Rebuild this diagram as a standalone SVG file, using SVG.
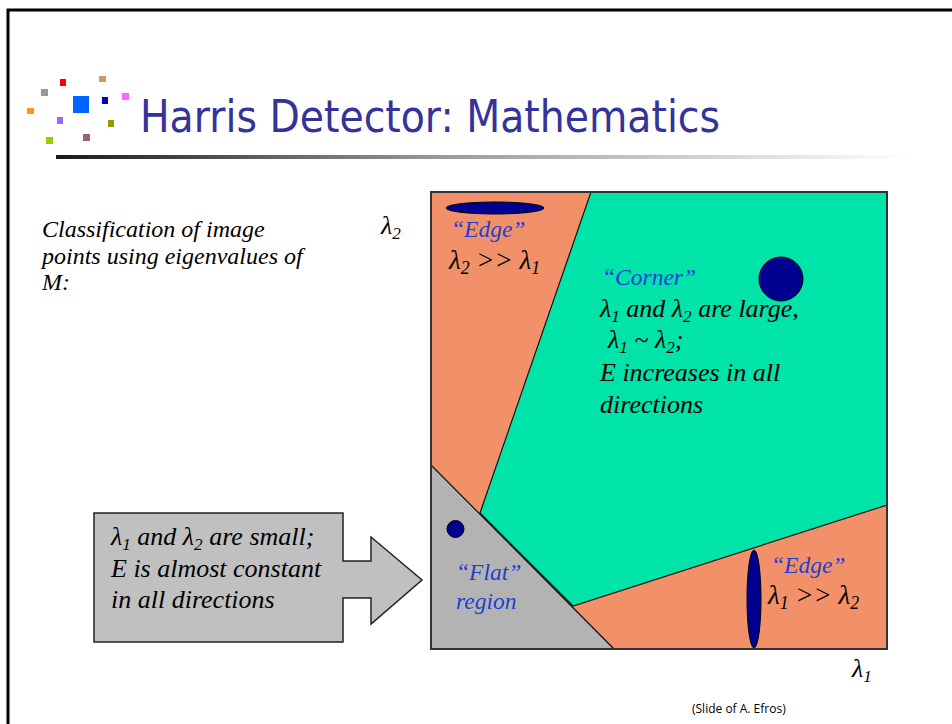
<svg xmlns="http://www.w3.org/2000/svg" width="952" height="724" viewBox="0 0 952 724">
<defs>
<linearGradient id="bar" x1="0" x2="1" y1="0" y2="0">
<stop offset="0" stop-color="#1a1a1a"/>
<stop offset="0.45" stop-color="#9a9a9a"/>
<stop offset="1" stop-color="#ffffff"/>
</linearGradient>
<style>
.t{font-style:italic;fill:#000}
.b{fill:#1f3fd0}
.s{font-size:66%}
.dot{fill:#000090;stroke:#000;stroke-width:1}
.edge{stroke:#111;stroke-width:1.2}
</style>
</defs>
<rect width="952" height="724" fill="#fff"/>
<path d="M8,724 V10 H952" fill="none" stroke="#000" stroke-width="3"/>
<g id="logo">
<rect x="27" y="108" width="7" height="6" fill="#ff9a00"/>
<rect x="41" y="89" width="7" height="7" fill="#999"/>
<rect x="60" y="79" width="6" height="7" fill="#f00"/>
<rect x="99" y="76" width="7" height="6" fill="#cc9966"/>
<rect x="73" y="96" width="16" height="17" fill="#0066ff"/>
<rect x="102" y="97" width="6" height="7" fill="#0000cc"/>
<rect x="122" y="93" width="7" height="7" fill="#ff66ff"/>
<rect x="57" y="117" width="6" height="7" fill="#9966ff"/>
<rect x="108" y="120" width="6" height="7" fill="#999900"/>
<rect x="46" y="137" width="7" height="7" fill="#99cc00"/>
<rect x="83" y="134" width="7" height="7" fill="#996666"/>
</g>
<text id="title" x="140" y="132" font-family="DejaVu Sans" font-size="44" fill="#333399" textLength="580" lengthAdjust="spacingAndGlyphs">Harris Detector: Mathematics</text>
<rect x="56" y="155" width="856" height="4" fill="url(#bar)"/>
<g id="intro">
<text class="t" font-family="Liberation Serif" font-size="24" x="42" y="237">Classification of image</text>
<text class="t" font-family="Liberation Serif" font-size="24" x="42" y="264">points using eigenvalues of</text>
<text class="t" font-family="Liberation Serif" font-size="24" x="42" y="290">M:</text>
</g>
<g id="plot">
<rect x="431" y="192" width="456" height="457" fill="#f19069"/>
<polygon points="591,192 887,192 887,505 573,606 480,513" fill="#00e3a9" class="edge"/>
<polygon points="431,465 431,649 614,649" fill="#b3b3b3" class="edge"/>
<path d="M431,192 H887 V649 H431 Z" fill="none" stroke="#333" stroke-width="2"/>
</g>
<g id="edge-top">
<ellipse cx="495" cy="208" rx="49" ry="6" class="dot"/>
<text class="t b" font-family="Liberation Serif" x="451" y="237" font-size="23.5">“Edge”</text>
<text class="t" font-family="Liberation Serif" x="449" y="269" font-size="27">λ<tspan class="s" dy="5">2</tspan><tspan dy="-5"> &gt;&gt; λ</tspan><tspan class="s" dy="5">1</tspan></text>
</g>
<g id="corner">
<circle cx="781" cy="279" r="22" class="dot"/>
<text class="t b" font-family="Liberation Serif" x="602" y="285" font-size="23.5">“Corner”</text>
<text class="t" font-family="Liberation Serif" x="600" y="317" font-size="26">λ<tspan class="s" dy="5">1</tspan><tspan dy="-5"> and λ</tspan><tspan class="s" dy="5">2</tspan><tspan dy="-5"> are large,</tspan></text>
<text class="t" font-family="Liberation Serif" x="608" y="348" font-size="26">λ<tspan class="s" dy="5">1</tspan><tspan dy="-5"> ~ λ</tspan><tspan class="s" dy="5">2</tspan><tspan dy="-5">;</tspan></text>
<text class="t" font-family="Liberation Serif" x="600" y="381" font-size="26">E increases in all</text>
<text class="t" font-family="Liberation Serif" x="600" y="413" font-size="26">directions</text>
</g>
<g id="flat">
<circle cx="455.5" cy="529" r="8.5" class="dot"/>
<text class="t b" font-family="Liberation Serif" x="456" y="580" font-size="23.5">“Flat”</text>
<text class="t b" font-family="Liberation Serif" x="456" y="609" font-size="23.5">region</text>
</g>
<g id="edge-right">
<ellipse cx="754" cy="599" rx="7" ry="49" class="dot"/>
<text class="t b" font-family="Liberation Serif" x="771" y="573" font-size="23.5">“Edge”</text>
<text class="t" font-family="Liberation Serif" x="768" y="604" font-size="27">λ<tspan class="s" dy="5">1</tspan><tspan dy="-5"> &gt;&gt; λ</tspan><tspan class="s" dy="5">2</tspan></text>
</g>
<g id="axes">
<text class="t" font-family="Liberation Serif" font-size="26" x="381" y="234">λ<tspan class="s" dy="5">2</tspan></text>
<text class="t" font-family="Liberation Serif" font-size="26" x="852" y="677">λ<tspan class="s" dy="5">1</tspan></text>
</g>
<g id="callout">
<polygon points="94,513 343,513 343,561 371,561 371,537 422,580 371,624 371,598 343,598 343,642 94,642" fill="#c0c0c0" stroke="#222" stroke-width="1.5"/>
<text class="t" font-family="Liberation Serif" x="111" y="545" font-size="26">λ<tspan class="s" dy="5">1</tspan><tspan dy="-5"> and λ</tspan><tspan class="s" dy="5">2</tspan><tspan dy="-5"> are small;</tspan></text>
<text class="t" font-family="Liberation Serif" x="111" y="577" font-size="26">E is almost constant</text>
<text class="t" font-family="Liberation Serif" x="111" y="608" font-size="26">in all directions</text>
</g>
<text id="credit" x="692" y="713" font-family="Open Sans" font-size="12" fill="#000">(Slide of A. Efros)</text>
</svg>
